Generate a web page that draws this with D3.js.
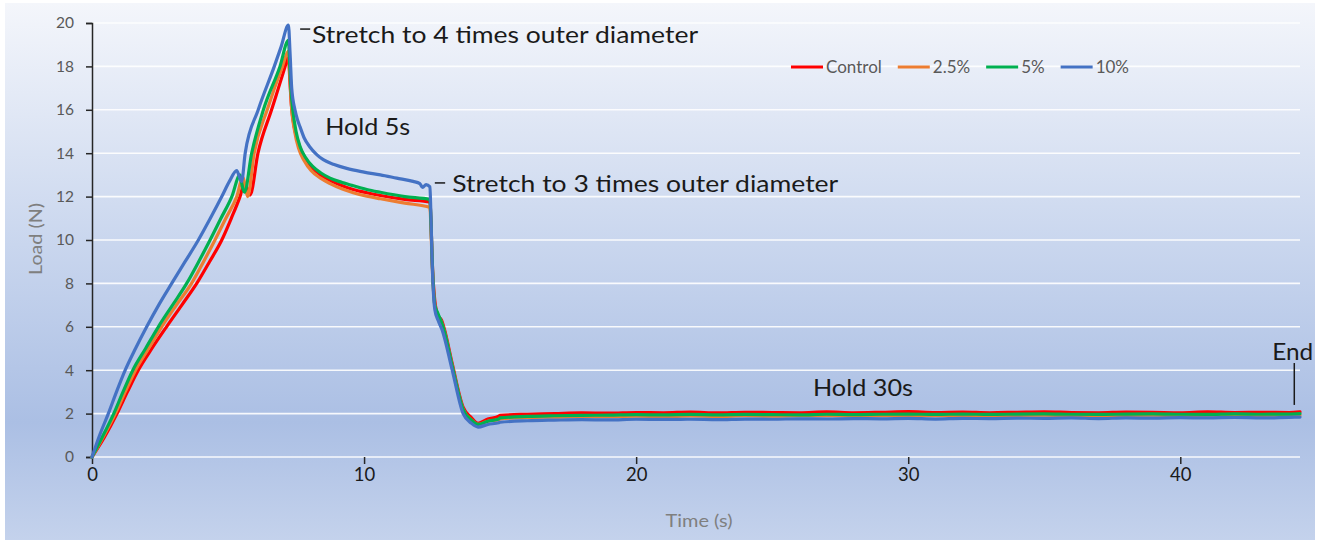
<!DOCTYPE html>
<html lang="en">
<head>
    <meta charset="UTF-8">
    <title>Load vs Time</title>
    <script src="https://d3js.org/d3.v7.min.js"></script>
    <style>
        body {
            margin: 0;
            padding: 0;
            background-color: #ffffff;
            font-family: 'Lato', sans-serif;
        }
        .grid line {
            stroke: #ffffff;
            stroke-width: 1.6;
            opacity: 0.9;
        }
        .ytick text {
            fill: #595959;
        }
        .xtick text {
            fill: #1a1a1a;
        }
        .axis-title {
            fill: #7f7f7f;
            font-size: 18px;
        }
        .note {
            fill: #1a1a1a;
            font-size: 22.5px;
        }
        .legend text {
            fill: #595959;
            font-size: 17px;
        }
        .series {
            fill: none;
            stroke-width: 3.2;
            stroke-linejoin: round;
            stroke-linecap: round;
        }
    </style>
</head>
<body>
    <div id="chart"></div>

    <script>
        // ramp + hold 5s + second stretch, [time s, load N]
        const controlPts = [
            [0,0],[0.45,0.9],[0.92,2.0],[1.3,3.0],[1.7,4.0],[2.2,5.0],[2.74,6.0],[3.3,7.0],[3.85,8.0],[4.32,9.0],
            [4.77,10.0],[5.12,11.0],[5.44,12.0],[5.6,12.6],[5.7,12.4],[5.81,12.07],[6.1,14.0],[6.6,16.0],[7.1,18.0],
            [7.22,18.5],[7.27,17.4],[7.33,16.2],[7.45,15.1],[7.6,14.4],[7.8,13.85],[8.05,13.4],[8.4,13.0],[8.75,12.75],
            [9.2,12.5],[9.6,12.33],[10.1,12.18],[10.6,12.05],[11.5,11.87],[12.42,11.75],
            [12.46,10.8],[12.5,9.2],[12.6,7.2],[12.72,6.5],[12.85,6.3],[12.95,5.9],[13.24,4.3],
            [13.64,2.3],[13.95,1.8],[14.19,1.55],[14.55,1.75],[14.95,1.88]
        ];
        const pct25Pts = [
            [0,0],[0.4,0.9],[0.86,2.0],[1.22,3.0],[1.6,4.0],[2.08,5.0],[2.56,6.0],[3.1,7.0],[3.66,8.0],[4.1,9.0],
            [4.52,10.0],[4.92,11.0],[5.32,12.0],[5.55,12.9],[5.64,12.4],[5.72,12.0],[5.96,14.0],[6.44,16.0],[7.0,18.0],
            [7.22,18.7],[7.27,17.6],[7.33,16.2],[7.45,15.0],[7.6,14.2],[7.8,13.65],[8.05,13.2],[8.4,12.85],[8.75,12.6],
            [9.2,12.35],[9.6,12.18],[10.1,12.02],[10.6,11.9],[11.5,11.7],[12.42,11.5],
            [12.46,10.5],[12.5,9.0],[12.6,7.0],[12.72,6.5],[12.85,6.2],[12.95,5.8],[13.24,4.2],
            [13.64,2.2],[13.95,1.7],[14.19,1.5],[14.55,1.65],[14.95,1.72]
        ];
        const pct5Pts = [
            [0,0],[0.37,0.9],[0.8,2.0],[1.14,3.0],[1.5,4.0],[1.97,5.0],[2.44,6.0],[2.96,7.0],[3.48,8.0],[3.92,9.0],
            [4.34,10.0],[4.74,11.0],[5.14,12.0],[5.44,13.0],[5.52,12.5],[5.6,12.2],[5.87,14.0],[6.3,16.0],[6.91,18.0],
            [7.22,19.2],[7.27,18.0],[7.32,16.8],[7.38,16.0],[7.5,15.0],[7.65,14.3],[7.85,13.8],[8.1,13.4],[8.4,13.1],
            [8.75,12.85],[9.2,12.65],[9.6,12.5],[10.1,12.33],[10.6,12.2],[11.5,12.0],[12.42,11.87],
            [12.46,10.8],[12.5,9.2],[12.6,7.0],[12.72,6.6],[12.85,6.2],[12.95,5.8],[13.24,4.2],
            [13.64,2.2],[13.95,1.7],[14.19,1.5],[14.55,1.65],[14.95,1.75]
        ];
        const pct10Pts = [
            [0,0],[0.28,1.0],[0.6,2.0],[0.9,3.0],[1.22,4.0],[1.6,5.0],[2.01,6.0],[2.45,7.0],[2.93,8.0],[3.42,9.0],
            [3.91,10.0],[4.35,11.0],[4.77,12.0],[5.05,12.7],[5.32,13.2],[5.42,12.9],[5.5,12.7],[5.63,14.0],[6.11,16.0],
            [6.7,18.0],[6.95,18.9],[7.22,19.9],[7.28,18.6],[7.34,17.0],[7.46,16.0],[7.55,15.55],[7.65,15.2],[7.8,14.7],
            [8.0,14.3],[8.25,13.95],[8.5,13.7],[8.9,13.48],[9.36,13.3],[10.0,13.13],[10.6,13.0],[11.2,12.85],[11.8,12.7],
            [12.05,12.6],[12.15,12.42],[12.28,12.55],[12.42,12.45],
            [12.46,11.0],[12.5,9.1],[12.6,6.8],[12.72,6.3],[12.87,5.85],[13.24,4.0],[13.64,2.0],[13.95,1.55],[14.19,1.38],
            [14.55,1.5],[14.95,1.58]
        ];

        // hold 30s
        const holdTime = [15,16,17,18,19,20,21,22,23,24,25,26,27,28,29,30,31,32,33,34,35,36,37,38,39,40,41,42,43,44,44.4];
        const holdControl = [1.92,1.97,2.0,2.03,2.02,2.05,2.04,2.07,2.03,2.06,2.05,2.04,2.08,2.04,2.06,2.09,2.05,2.07,2.04,2.06,2.08,2.05,2.04,2.07,2.06,2.04,2.08,2.05,2.06,2.05,2.08];
        const holdPct25 = [1.76,1.82,1.84,1.87,1.86,1.88,1.86,1.89,1.87,1.9,1.88,1.9,1.91,1.89,1.91,1.92,1.9,1.92,1.9,1.92,1.93,1.91,1.9,1.92,1.93,1.91,1.93,1.92,1.92,1.94,1.93];
        const holdPct5 = [1.8,1.87,1.9,1.92,1.93,1.95,1.94,1.96,1.94,1.96,1.95,1.94,1.97,1.95,1.97,1.98,1.96,1.98,1.96,1.98,1.99,1.97,1.96,1.98,1.99,1.97,1.96,1.99,1.97,1.98,2.0];
        const holdPct10 = [1.6,1.67,1.7,1.72,1.71,1.74,1.73,1.74,1.72,1.75,1.74,1.76,1.75,1.77,1.76,1.78,1.75,1.78,1.77,1.79,1.78,1.8,1.77,1.8,1.79,1.81,1.8,1.82,1.8,1.83,1.84];

        const seriesNames = ['Control', '2.5%', '5%', '10%'];
        const seriesColors = ['#ff0000', '#ed7d31', '#00b050', '#4472c4'];
        const xTicks = [0, 10, 20, 30, 40];
        const yTicks = [0, 2, 4, 6, 8, 10, 12, 14, 16, 18, 20];

        const series = [
            [controlPts, holdControl],
            [pct25Pts, holdPct25],
            [pct5Pts, holdPct5],
            [pct10Pts, holdPct10]
        ].map(([ramp, hold], i) => ({
            name: seriesNames[i],
            color: seriesColors[i],
            points: ramp.concat(holdTime.map((t, j) => [t, hold[j]]))
        }));

        const width = 1336, height = 540;
        const plot = { left: 92, right: 1300, top: 23, bottom: 457 };

        const svg = d3.select('#chart').append('svg')
            .attr('width', width)
            .attr('height', height);

        // panel background gradient
        const grad = svg.append('defs').append('linearGradient')
            .attr('id', 'bg').attr('x1', 0).attr('y1', 0).attr('x2', 0).attr('y2', 1);
        grad.append('stop').attr('offset', '0%').attr('stop-color', '#f4f6fb');
        grad.append('stop').attr('offset', '45%').attr('stop-color', '#c9d6ee');
        grad.append('stop').attr('offset', '78%').attr('stop-color', '#abbfe4');
        grad.append('stop').attr('offset', '100%').attr('stop-color', '#c4d2ec');

        svg.append('rect')
            .attr('x', 5).attr('y', 3)
            .attr('width', 1310).attr('height', height - 3)
            .attr('fill', 'url(#bg)');

        const x = d3.scaleLinear().domain([0, 44.4]).range([plot.left, plot.right]);
        const y = d3.scaleLinear().domain([0, 20]).range([plot.bottom, plot.top]);

        // gridlines
        svg.append('g').attr('class', 'grid')
            .selectAll('line')
            .data(yTicks)
            .join('line')
            .attr('x1', plot.left).attr('x2', plot.right)
            .attr('y1', d => y(d)).attr('y2', d => y(d));

        // y axis
        const yAxis = svg.append('g')
            .attr('class', 'ytick')
            .attr('transform', `translate(${plot.left},0)`)
            .call(d3.axisLeft(y).tickValues(yTicks).tickSize(6).tickPadding(12));
        yAxis.select('.domain').attr('stroke', '#262626').attr('stroke-width', 1.5);
        yAxis.selectAll('.tick line').attr('stroke', '#262626').attr('stroke-width', 1.5);
        yAxis.selectAll('text').attr('font-family', 'Lato').attr('font-size', 15.5);

        // x axis (ticks only, the zero gridline serves as the baseline)
        const xAxis = svg.append('g')
            .attr('class', 'xtick')
            .attr('transform', `translate(0,${plot.bottom})`)
            .call(d3.axisBottom(x).tickValues(xTicks).tickSize(7).tickPadding(4));
        xAxis.select('.domain').remove();
        xAxis.selectAll('.tick line').attr('stroke', '#262626').attr('stroke-width', 1.5);
        xAxis.selectAll('text').attr('font-family', 'Lato').attr('font-size', 18.5);

        // lines
        const line = d3.line()
            .x(d => x(d[0]))
            .y(d => y(d[1]))
            .curve(d3.curveMonotoneX);

        svg.append('g')
            .selectAll('path')
            .data(series)
            .join('path')
            .attr('class', 'series')
            .attr('stroke', d => d.color)
            .attr('d', d => line(d.points));

        // axis titles
        svg.append('text')
            .attr('class', 'axis-title')
            .attr('transform', 'translate(42,239) rotate(-90)')
            .attr('text-anchor', 'middle')
            .attr('textLength', 72).attr('lengthAdjust', 'spacingAndGlyphs')
            .text('Load (N)');

        svg.append('text')
            .attr('class', 'axis-title')
            .attr('x', 699).attr('y', 527)
            .attr('text-anchor', 'middle')
            .attr('textLength', 67).attr('lengthAdjust', 'spacingAndGlyphs')
            .text('Time (s)');

        // annotations
        const notes = [
            { text: 'Stretch to 4 times outer diameter', t: 8.09, v: 19.1, len: 386, dash: [7.65, 8.02, 19.72] },
            { text: 'Hold 5s', t: 8.57, v: 14.84, len: 85 },
            { text: 'Stretch to 3 times outer diameter', t: 13.24, v: 12.2, len: 386, dash: [12.6, 12.98, 12.63] },
            { text: 'Hold 30s', t: 26.5, v: 2.81, len: 100 },
            { text: 'End', t: 43.38, v: 4.47, len: 41 }
        ];

        const noteG = svg.append('g');
        noteG.selectAll('text')
            .data(notes)
            .join('text')
            .attr('class', 'note')
            .attr('x', d => x(d.t))
            .attr('y', d => y(d.v))
            .attr('textLength', d => d.len)
            .attr('lengthAdjust', 'spacingAndGlyphs')
            .text(d => d.text);

        noteG.selectAll('line.dash')
            .data(notes.filter(d => d.dash))
            .join('line')
            .attr('class', 'dash')
            .attr('x1', d => x(d.dash[0])).attr('x2', d => x(d.dash[1]))
            .attr('y1', d => y(d.dash[2])).attr('y2', d => y(d.dash[2]))
            .attr('stroke', '#1a1a1a').attr('stroke-width', 1.5);

        // End marker
        noteG.append('line')
            .attr('x1', x(44.19)).attr('x2', x(44.19))
            .attr('y1', y(4.33)).attr('y2', y(2.4))
            .attr('stroke', '#1a1a1a').attr('stroke-width', 1.5);

        // legend
        const legend = svg.append('g').attr('class', 'legend')
            .attr('transform', 'translate(791,67)');
        let lx = 0;
        series.forEach(s => {
            const item = legend.append('g').attr('transform', `translate(${lx},0)`);
            item.append('line')
                .attr('x1', 0).attr('x2', 32)
                .attr('stroke', s.color).attr('stroke-width', 3);
            const label = item.append('text')
                .attr('x', 35).attr('dy', '0.35em')
                .text(s.name);
            lx += 35 + label.node().getComputedTextLength() + 16;
        });
    </script>
</body>
</html>
